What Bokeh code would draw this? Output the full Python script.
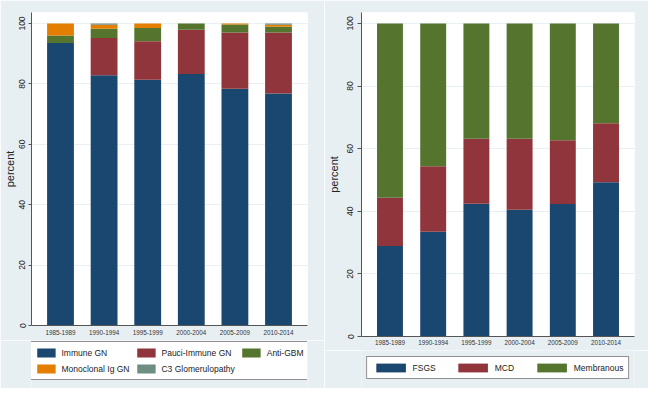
from bokeh.plotting import figure
from bokeh.layouts import row, column
from bokeh.models import ColumnDataSource, FactorRange, Range1d, Legend, LegendItem, FixedTicker
from bokeh.embed import file_html
from bokeh.resources import INLINE

# ---------------- data ----------------
periods = ["1985-1989", "1990-1994", "1995-1999", "2000-2004", "2005-2009", "2010-2014"]

# left panel (glomerulonephritis types, percent)
immune_gn = [93.5, 82.9, 81.4, 83.3, 78.4, 76.8]
pauci_immune_gn = [0.0, 12.3, 12.7, 14.6, 18.6, 20.2]
anti_gbm = [2.5, 3.1, 4.4, 2.1, 2.7, 1.9]
monoclonal_ig_gn = [4.0, 1.3, 1.5, 0.0, 0.3, 0.7]
c3_glomerulopathy = [0.0, 0.4, 0.0, 0.0, 0.0, 0.4]
left_labels = ["Immune GN", "Pauci-Immune GN", "Anti-GBM", "Monoclonal Ig GN", "C3 Glomerulopathy"]

# right panel (nephrotic types, percent)
fsgs = [28.9, 33.5, 42.4, 40.5, 42.3, 49.3]
mcd = [15.4, 20.9, 20.8, 22.7, 20.4, 18.8]
membranous = [55.7, 45.6, 36.8, 36.8, 37.3, 31.9]
right_labels = ["FSGS", "MCD", "Membranous"]

y_ticks = [0, 20, 40, 60, 80, 100]
y_label = "percent"

# ---------------- style ----------------
BG = "#e8eff3"
GRID = "#e9eff3"
AXIS = "#555555"
TEXT = "#222222"
FONT = "Liberation Sans"
NAVY, MAROON, GREEN, ORANGE, TEAL = "#1a476f", "#90353b", "#55752f", "#e37e00", "#6e8e84"
LEFT_COLORS = [NAVY, MAROON, GREEN, ORANGE, TEAL]
RIGHT_COLORS = [NAVY, MAROON, GREEN]


def make_fig(height, mb_left, mb_right, mb_top, mb_bottom, y_end, pad):
    p = figure(width=324, height=height,
               x_range=FactorRange(factors=periods, range_padding=pad),
               y_range=Range1d(0, y_end),
               output_backend="svg", toolbar_location=None,
               min_border_left=mb_left, min_border_right=mb_right,
               min_border_top=mb_top, min_border_bottom=mb_bottom)
    p.background_fill_color = "white"
    p.border_fill_color = BG
    p.outline_line_color = None
    p.xgrid.grid_line_color = None
    p.ygrid.grid_line_color = GRID
    p.ygrid.grid_line_width = 1

    p.xaxis.axis_line_color = AXIS
    p.xaxis.major_tick_line_color = None
    p.xaxis.major_tick_out = 0
    p.xaxis.major_tick_in = 0
    p.xaxis.major_label_standoff = 4
    p.xaxis.major_label_text_font = FONT
    p.xaxis.major_label_text_font_size = "6.3px"
    p.xaxis.major_label_text_color = "#333333"

    p.yaxis.ticker = FixedTicker(ticks=y_ticks)
    p.yaxis.axis_line_color = AXIS
    p.yaxis.major_tick_line_color = AXIS
    p.yaxis.major_tick_out = 4
    p.yaxis.major_tick_in = 0
    p.yaxis.minor_tick_line_color = None
    p.yaxis.major_label_orientation = "vertical"
    p.yaxis.major_label_text_font = FONT
    p.yaxis.major_label_text_font_size = "8.5px"
    p.yaxis.major_label_text_color = TEXT
    p.yaxis.axis_label = y_label
    p.yaxis.axis_label_text_font = FONT
    p.yaxis.axis_label_text_font_style = "normal"
    p.yaxis.axis_label_text_font_size = "11px"
    p.yaxis.axis_label_text_color = TEXT
    return p


def make_legend_fig(height, mb_left, source, stackers, colors, labels, margin, gw, spacing):
    # a strip below each chart that only holds the legend; its stacked bars lie
    # outside the y range, so only the legend swatches are visible
    f = figure(width=324, height=height, x_range=FactorRange(factors=periods),
               y_range=Range1d(1000, 1001), output_backend="svg", toolbar_location=None,
               x_axis_location=None, y_axis_location=None,
               min_border_left=mb_left, min_border_right=0, min_border_top=0, min_border_bottom=0)
    f.background_fill_color = BG
    f.border_fill_color = BG
    f.outline_line_color = None
    f.grid.grid_line_color = None
    rs = f.vbar_stack(stackers, x="period", width=0.6, color=colors, line_color=None, source=source)
    leg = Legend(items=[LegendItem(label=lab, renderers=[r]) for lab, r in zip(labels, rs)],
                 location="top_center", orientation="horizontal", ncols=3,
                 glyph_width=gw, glyph_height=11, label_standoff=4,
                 spacing=spacing, padding=5, margin=margin,
                 label_text_font=FONT, label_text_font_size="8.5px", label_text_color=TEXT,
                 border_line_color="#222222", border_line_width=1,
                 background_fill_color="white", background_fill_alpha=1.0)
    f.add_layout(leg, "center")
    return f


# ---------------- left panel ----------------
src_l = ColumnDataSource(dict(period=periods, immune=immune_gn, pauci=pauci_immune_gn,
                              gbm=anti_gbm, mono=monoclonal_ig_gn, c3=c3_glomerulopathy))
left_stack = ["immune", "pauci", "gbm", "mono", "c3"]
p1 = make_fig(340, 26, 17, 12, 15, 103.64, 0.055)
p1.yaxis.major_tick_out = 3
p1.yaxis.major_label_standoff = 3
p1.yaxis.axis_label_standoff = 1
p1.vbar_stack(left_stack, x="period", width=0.615, color=LEFT_COLORS, line_color=None, source=src_l)
lf1 = make_legend_fig(48, 17, src_l, left_stack, LEFT_COLORS, left_labels, 1, 23, 5)

# ---------------- right panel ----------------
src_r = ColumnDataSource(dict(period=periods, fsgs=fsgs, mcd=mcd, memb=membranous))
right_stack = ["fsgs", "mcd", "memb"]
p2 = make_fig(350, 34, 14, 12, 14, 103.5, 0.053)
p2.yaxis.major_label_standoff = 4
p2.yaxis.axis_label_standoff = 5
p2.xaxis.major_label_standoff = 3
p2.vbar_stack(right_stack, x="period", width=0.6, color=RIGHT_COLORS, line_color=None, source=src_r)
lf2 = make_legend_fig(38, 19, src_r, right_stack, RIGHT_COLORS, right_labels, 6, 37, 18)

layout = row(column(p1, lf1, spacing=0), column(p2, lf2, spacing=0), spacing=0)
open("out.html", "w").write(file_html(layout, INLINE))
